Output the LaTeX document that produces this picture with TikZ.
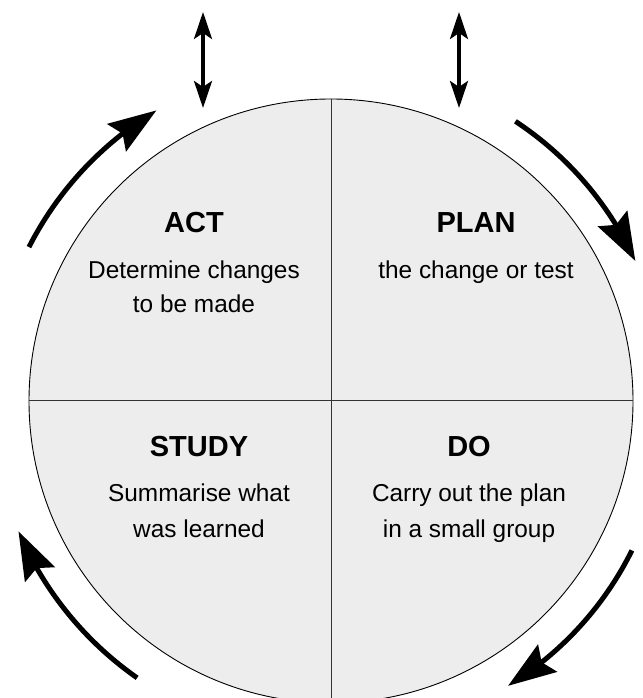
\documentclass[tikz,border=0pt]{standalone}
\usepackage{fontspec}
\setmainfont{Liberation Sans}
\usetikzlibrary{arrows.meta,bending}

\tikzset{
  heading/.style={font=\bfseries\fontsize{29}{34}\selectfont, anchor=base, inner sep=0pt},
  body/.style={font=\fontsize{24.4}{30}\selectfont, anchor=base, inner sep=0pt},
  cyclearrow/.style={line width=5pt, -{Stealth[length=48pt,width=33pt,inset=7pt]}},
  twoway/.style={line width=3.5pt, {Stealth[length=27pt,width=18pt,inset=6pt]}-{Stealth[length=27pt,width=18pt,inset=6pt]}},
}

\begin{document}
\begin{tikzpicture}[x=1pt,y=1pt]
\useasboundingbox (0,0) rectangle (642,698);
% Draw the wheel and its four quarters
\node [circle, draw, line width=0.9pt, fill=black!7, minimum size=604pt, inner sep=0pt] (wheel) at (331,297) {};
\draw [line width=1pt, color=black!80] (wheel.north) -- (wheel.south);
\draw [line width=1pt, color=black!80] (wheel.west) -- (wheel.east);
% Texts of the quarters
\node [heading] (act) at (194,465) {ACT};
\node [body] (act1) at (194,419) {Determine changes};
\node [body] (act2) at (194,385) {to be made};
\node [heading] (plan) at (476,465) {PLAN};
\node [body] (plan1) at (476,419) {the change or test};
\node [heading] (study) at (199,241) {STUDY};
\node [body] (study1) at (199,196) {Summarise what};
\node [body] (study2) at (199,160) {was learned};
\node [heading] (do) at (469,241) {DO};
\node [body] (do1) at (469,196) {Carry out the plan};
\node [body] (do2) at (469,160) {in a small group};
% Two-way arrows above
\coordinate (actin) at (203,686);
\coordinate (actout) at (203,590);
\coordinate (planin) at (459,686);
\coordinate (planout) at (459,590);
\draw [twoway] (actin) -- (actout);
\draw [twoway] (planin) -- (planout);
% Arrows round the wheel
\draw [cyclearrow] ([shift={(153:339)}]wheel.center) arc [start angle=153, end angle=121, radius=339];
\draw [cyclearrow] ([shift={(56.6:335)}]wheel.center) arc [start angle=56.6, end angle=24.7, radius=335];
\draw [cyclearrow] ([shift={(-26.4:336)}]wheel.center) arc [start angle=-26.4, end angle=-58.5, radius=332];
\draw [cyclearrow] ([shift={(-125:338)}]wheel.center) arc [start angle=-125, end angle=-157, radius=342];
\end{tikzpicture}
\end{document}
